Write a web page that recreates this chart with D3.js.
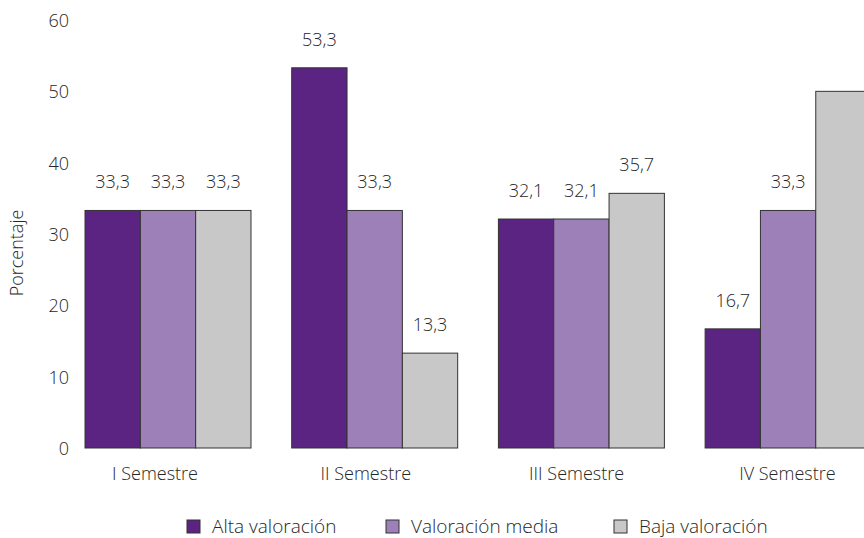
<!DOCTYPE html>
<html>
<head>
<meta charset="utf-8">
<script src="https://cdn.jsdelivr.net/npm/d3@7"></script>
<style>
  body { margin: 0; background: #fff; overflow: hidden; }
  svg { display: block; }
  svg text { font-family: "Open Sans", Lato, sans-serif; font-weight: 300; fill: #262626; }
</style>
</head>
<body>
<div id="chart"></div>
<script>
var semestres = ["I Semestre", "II Semestre", "III Semestre", "IV Semestre"];
var series = ["Alta valoración", "Valoración media", "Baja valoración"];
var alta = [33.3, 53.3, 32.1, 16.7];
var media = [33.3, 33.3, 32.1, 33.3];
var baja = [33.3, 13.3, 35.7, 50.0];
var yTicks = [0, 10, 20, 30, 40, 50, 60];
var colores = ["#5b2482", "#9e80b8", "#c8c8c8"];

var width = 864, height = 538;
var valores = [alta, media, baja];

var data = semestres.map(function (s, i) {
    return { semestre: s, vals: series.map(function (k, j) { return { key: k, j: j, v: valores[j][i] }; }) };
});

var svg = d3.select("#chart")
    .append("svg")
    .attr("width", width)
    .attr("height", height);

// scales
var y = d3.scaleLinear().domain([0, 60]).range([448, 20]);

var x0 = d3.scaleBand()
    .domain(semestres)
    .range([64.65, 891.45])
    .paddingInner(0.197)
    .paddingOuter(0.0985);

var x1 = d3.scaleBand()
    .domain(series)
    .range([0, x0.bandwidth()]);

// category labels sit on a slightly wider step than the bars
var xLab = d3.scaleBand()
    .domain(semestres)
    .range([49.6, 892.8]);

// y axis (labels only)
var yAxis = svg.append("g")
    .attr("transform", "translate(69,0)")
    .call(d3.axisLeft(y).tickValues(yTicks).tickSize(0).tickPadding(0));
yAxis.select(".domain").remove();
yAxis.selectAll("text").style("font-size", "18px").attr("dy", "0.36em");

svg.append("text")
    .attr("transform", "translate(23,253) rotate(-90)")
    .attr("text-anchor", "middle")
    .style("font-size", "18px")
    .text("Porcentaje");

// bars
var groups = svg.selectAll(".grupo").data(data)
    .enter().append("g")
    .attr("class", "grupo")
    .attr("transform", function (d) { return "translate(" + x0(d.semestre) + ",0)"; });

groups.selectAll("rect").data(function (d) { return d.vals; })
    .enter().append("rect")
    .attr("x", function (d) { return x1(d.key); })
    .attr("y", function (d) { return y(d.v); })
    .attr("width", x1.bandwidth())
    .attr("height", function (d) { return y(0) - y(d.v); })
    .attr("fill", function (d) { return colores[d.j]; })
    .attr("stroke", "#333")
    .attr("stroke-width", 1);

// values (skip bars that run past the edge)
groups.each(function (g) {
    var gx = x0(g.semestre);
    d3.select(this).selectAll(".val").data(g.vals)
        .enter().append("text")
        .filter(function (d) { return gx + x1(d.key) + x1.bandwidth() <= width; })
        .attr("x", function (d) { return x1(d.key) + x1.bandwidth() / 2; })
        .attr("y", function (d) { return y(d.v) - 22; })
        .attr("text-anchor", "middle")
        .style("font-size", "18px")
        .text(function (d) { return d.v.toFixed(1).replace(".", ","); });
});

// category labels
svg.selectAll(".cat").data(semestres)
    .enter().append("text")
    .attr("x", function (d) { return xLab(d) + xLab.bandwidth() / 2; })
    .attr("y", 480)
    .attr("text-anchor", "middle")
    .style("font-size", "18px")
    .text(function (d) { return d; });

// legend
var legX = [187, 386, 614];
var leg = svg.selectAll(".leg").data(series)
    .enter().append("g")
    .attr("transform", function (d, i) { return "translate(" + legX[i] + ",520)"; });
leg.append("rect")
    .attr("width", 13).attr("height", 13)
    .attr("fill", function (d, i) { return colores[i]; })
    .attr("stroke", "#333");
leg.append("text")
    .attr("x", 25)
    .attr("y", 13)
    .style("font-size", "19px")
    .text(function (d) { return d; });
</script>
</body>
</html>
